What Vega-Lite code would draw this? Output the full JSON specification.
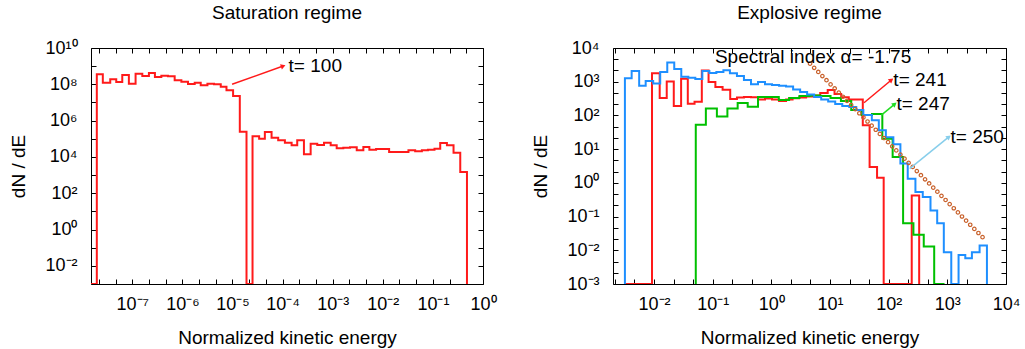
{
  "$schema": "https://vega.github.io/schema/vega-lite/v6.json",
  "padding": {"left": 9, "top": 4, "right": 5, "bottom": 5},
  "bounds": "flush",
  "spacing": 130,
  "config": {
    "font": "Liberation Sans",
    "view": {"stroke": null},
    "title": {"fontSize": 19, "fontWeight": "normal", "color": "#000", "offset": 16},
    "axis": {"tickSize": -5, "tickColor": "#000", "domainColor": "#000", "labelColor": "#000", "titleColor": "#000", "labelFontSize": 18, "titleFontSize": 19, "titleFontWeight": "normal", "grid": false, "labelFlush": false, "labelOverlap": false, "tickWidth": 1, "domainWidth": 1},
    "axisX": {"labelPadding": 16, "titlePadding": 15},
    "axisY": {"labelPadding": 19},
    "text": {"fontSize": 19, "color": "#000"}
  },
  "datasets": {
    "sat": [
      {"energy": 1.5e-8, "dNdE": 0.001},
      {"energy": 1.959e-8, "dNdE": 3.548e8},
      {"energy": 2.582e-8, "dNdE": 1.225e8},
      {"energy": 3.631e-8, "dNdE": 1.884e8},
      {"energy": 4.786e-8, "dNdE": 1.340e8},
      {"energy": 6.310e-8, "dNdE": 3.236e8},
      {"energy": 8.551e-8, "dNdE": 1.079e8},
      {"energy": 1.164e-7, "dNdE": 3.828e8},
      {"energy": 1.585e-7, "dNdE": 2.864e8},
      {"energy": 2.148e-7, "dNdE": 4.188e8},
      {"energy": 2.831e-7, "dNdE": 2.512e8},
      {"energy": 3.802e-7, "dNdE": 2.972e8},
      {"energy": 5.152e-7, "dNdE": 2.754e8},
      {"energy": 7.015e-7, "dNdE": 1.660e8},
      {"energy": 9.550e-7, "dNdE": 1.390e8},
      {"energy": 1.294e-6, "dNdE": 1.040e8},
      {"energy": 1.762e-6, "dNdE": 1.225e8},
      {"energy": 2.323e-6, "dNdE": 8.810e7},
      {"energy": 3.162e-6, "dNdE": 1.079e8},
      {"energy": 4.285e-6, "dNdE": 1.0e8},
      {"energy": 5.834e-6, "dNdE": 7.379e7},
      {"energy": 7.586e-6, "dNdE": 4.677e7},
      {"energy": 1.028e-5, "dNdE": 2.270e7},
      {"energy": 1.400e-5, "dNdE": 2.455e5},
      {"energy": 1.905e-5, "dNdE": 0.001},
      {"energy": 2.512e-5, "dNdE": 1.374e5},
      {"energy": 3.404e-5, "dNdE": 1.014e5},
      {"energy": 4.426e-5, "dNdE": 2.371e5},
      {"energy": 6.026e-5, "dNdE": 1.148e5},
      {"energy": 8.166e-5, "dNdE": 8.279e4},
      {"energy": 1.112e-4, "dNdE": 6.109e4},
      {"energy": 1.514e-4, "dNdE": 4.395e4},
      {"energy": 1.959e-4, "dNdE": 8.279e4},
      {"energy": 2.667e-4, "dNdE": 1.403e4},
      {"energy": 3.631e-4, "dNdE": 5.383e4},
      {"energy": 4.920e-4, "dNdE": 4.571e4},
      {"energy": 6.699e-4, "dNdE": 6.109e4},
      {"energy": 9.120e-4, "dNdE": 4.395e4},
      {"energy": 1.202e-3, "dNdE": 3.006e4},
      {"energy": 1.629e-3, "dNdE": 3.162e4},
      {"energy": 2.218e-3, "dNdE": 3.412e4},
      {"energy": 3.020e-3, "dNdE": 2.333e4},
      {"energy": 4.093e-3, "dNdE": 3.548e4},
      {"energy": 5.395e-3, "dNdE": 2.512e4},
      {"energy": 7.345e-3, "dNdE": 2.754e4},
      {"energy": 1.000e-2, "dNdE": 2.754e4},
      {"energy": 1.337e-2, "dNdE": 1.879e4},
      {"energy": 1.820e-2, "dNdE": 1.879e4},
      {"energy": 2.466e-2, "dNdE": 1.879e4},
      {"energy": 3.251e-2, "dNdE": 2.333e4},
      {"energy": 4.426e-2, "dNdE": 2.056e4},
      {"energy": 6.026e-2, "dNdE": 2.333e4},
      {"energy": 7.943e-2, "dNdE": 2.512e4},
      {"energy": 0.1076, "dNdE": 2.858e4},
      {"energy": 0.1400, "dNdE": 5.888e4},
      {"energy": 0.1905, "dNdE": 4.395e4},
      {"energy": 0.2582, "dNdE": 1.722e4},
      {"energy": 0.3516, "dNdE": 1.479e3},
      {"energy": 0.4786, "dNdE": 0.001}
    ],
    "expl": [
      {"time": 241, "energy": 3.192e-3, "dNdE": 0.001},
      {"time": 241, "energy": 9.247e-3, "dNdE": 1778},
      {"time": 241, "energy": 1.250e-2, "dNdE": 327.3},
      {"time": 241, "energy": 1.648e-2, "dNdE": 1014},
      {"time": 241, "energy": 2.173e-2, "dNdE": 189.2},
      {"time": 241, "energy": 2.897e-2, "dNdE": 1219},
      {"time": 241, "energy": 3.767e-2, "dNdE": 221.3},
      {"time": 241, "energy": 4.909e-2, "dNdE": 254.1},
      {"time": 241, "energy": 6.531e-2, "dNdE": 2153},
      {"time": 241, "energy": 8.511e-2, "dNdE": 979.5},
      {"time": 241, "energy": 0.1112, "dNdE": 695.0},
      {"time": 241, "energy": 0.1476, "dNdE": 578.1},
      {"time": 241, "energy": 0.1991, "dNdE": 309.7},
      {"time": 241, "energy": 0.2594, "dNdE": 338.8},
      {"time": 241, "energy": 0.3412, "dNdE": 350.6},
      {"time": 241, "energy": 0.4498, "dNdE": 343.6},
      {"time": 241, "energy": 0.5929, "dNdE": 295.1},
      {"time": 241, "energy": 0.7798, "dNdE": 316.2},
      {"time": 241, "energy": 1.028, "dNdE": 295.1},
      {"time": 241, "energy": 1.355, "dNdE": 266.7},
      {"time": 241, "energy": 1.782, "dNdE": 299.2},
      {"time": 241, "energy": 2.301, "dNdE": 320.6},
      {"time": 241, "energy": 2.972, "dNdE": 338.8},
      {"time": 241, "energy": 3.917, "dNdE": 363.1},
      {"time": 241, "energy": 5.164, "dNdE": 388.2},
      {"time": 241, "energy": 6.808, "dNdE": 461.3},
      {"time": 241, "energy": 9.141, "dNdE": 566.2},
      {"time": 241, "energy": 11.94, "dNdE": 430.5},
      {"time": 241, "energy": 15.52, "dNdE": 343.6},
      {"time": 241, "energy": 20.89, "dNdE": 299.2},
      {"time": 241, "energy": 36.22, "dNdE": 51.40},
      {"time": 241, "energy": 47.32, "dNdE": 2.951},
      {"time": 241, "energy": 63.39, "dNdE": 1.409},
      {"time": 241, "energy": 82.22, "dNdE": 0.001},
      {"time": 241, "energy": 247.2, "dNdE": 0.4246},
      {"time": 241, "energy": 331.1, "dNdE": 0.001},
      {"time": 247, "energy": 5.152e-2, "dNdE": 0.001},
      {"time": 247, "energy": 5.152e-2, "dNdE": 53.21},
      {"time": 247, "energy": 7.655e-2, "dNdE": 159.2},
      {"time": 247, "energy": 0.1180, "dNdE": 93.33},
      {"time": 247, "energy": 0.1782, "dNdE": 161.4},
      {"time": 247, "energy": 0.2667, "dNdE": 232.3},
      {"time": 247, "energy": 0.3954, "dNdE": 180.3},
      {"time": 247, "energy": 0.5929, "dNdE": 350.6},
      {"time": 247, "energy": 0.8892, "dNdE": 350.6},
      {"time": 247, "energy": 1.340, "dNdE": 285.1},
      {"time": 247, "energy": 2.009, "dNdE": 327.3},
      {"time": 247, "energy": 3.013, "dNdE": 375.0},
      {"time": 247, "energy": 4.529, "dNdE": 388.2},
      {"time": 247, "energy": 6.808, "dNdE": 375.0},
      {"time": 247, "energy": 10.21, "dNdE": 327.3},
      {"time": 247, "energy": 15.35, "dNdE": 266.7},
      {"time": 247, "energy": 23.01, "dNdE": 143.9},
      {"time": 247, "energy": 34.51, "dNdE": 102.1},
      {"time": 247, "energy": 52.00, "dNdE": 109.4},
      {"time": 247, "energy": 77.98, "dNdE": 20.42},
      {"time": 247, "energy": 116.9, "dNdE": 5.861},
      {"time": 247, "energy": 176.2, "dNdE": 0.06368},
      {"time": 247, "energy": 264.2, "dNdE": 0.02871},
      {"time": 247, "energy": 396.3, "dNdE": 0.01288},
      {"time": 247, "energy": 597.0, "dNdE": 0.001},
      {"time": 247, "energy": 895.4, "dNdE": 0.001},
      {"time": 250, "energy": 3.192e-3, "dNdE": 0.001},
      {"time": 250, "energy": 3.192e-3, "dNdE": 1262},
      {"time": 250, "energy": 4.159e-3, "dNdE": 2080},
      {"time": 250, "energy": 5.585e-3, "dNdE": 760.3},
      {"time": 250, "energy": 7.211e-3, "dNdE": 1050},
      {"time": 250, "energy": 9.683e-3, "dNdE": 883.1},
      {"time": 250, "energy": 1.276e-2, "dNdE": 1945},
      {"time": 250, "energy": 1.683e-2, "dNdE": 3724},
      {"time": 250, "energy": 2.213e-2, "dNdE": 2388},
      {"time": 250, "energy": 2.917e-2, "dNdE": 1409},
      {"time": 250, "energy": 3.846e-2, "dNdE": 1315},
      {"time": 250, "energy": 5.058e-2, "dNdE": 1202},
      {"time": 250, "energy": 6.668e-2, "dNdE": 2080},
      {"time": 250, "energy": 8.790e-2, "dNdE": 1815},
      {"time": 250, "energy": 0.1156, "dNdE": 1945},
      {"time": 250, "energy": 0.1524, "dNdE": 2183},
      {"time": 250, "energy": 0.1968, "dNdE": 1778},
      {"time": 250, "energy": 0.2594, "dNdE": 1479},
      {"time": 250, "energy": 0.3412, "dNdE": 1125},
      {"time": 250, "energy": 0.4498, "dNdE": 837.5},
      {"time": 250, "energy": 0.5929, "dNdE": 979.5},
      {"time": 250, "energy": 0.7798, "dNdE": 837.5},
      {"time": 250, "energy": 1.028, "dNdE": 797.7},
      {"time": 250, "energy": 1.355, "dNdE": 760.3},
      {"time": 250, "energy": 1.782, "dNdE": 719.5},
      {"time": 250, "energy": 2.350, "dNdE": 586.1},
      {"time": 250, "energy": 3.097, "dNdE": 493.3},
      {"time": 250, "energy": 4.074, "dNdE": 415.9},
      {"time": 250, "energy": 5.370, "dNdE": 350.6},
      {"time": 250, "energy": 7.079, "dNdE": 295.1},
      {"time": 250, "energy": 9.311, "dNdE": 257.6},
      {"time": 250, "energy": 12.27, "dNdE": 216.8},
      {"time": 250, "energy": 16.18, "dNdE": 189.2},
      {"time": 250, "energy": 21.28, "dNdE": 176.6},
      {"time": 250, "energy": 28.05, "dNdE": 143.9},
      {"time": 250, "energy": 36.98, "dNdE": 102.1},
      {"time": 250, "energy": 51.64, "dNdE": 72.44},
      {"time": 250, "energy": 67.92, "dNdE": 36.52},
      {"time": 250, "energy": 89.54, "dNdE": 22.59},
      {"time": 250, "energy": 120.2, "dNdE": 14.0},
      {"time": 250, "energy": 158.5, "dNdE": 3.724},
      {"time": 250, "energy": 211.3, "dNdE": 1.334},
      {"time": 250, "energy": 285.8, "dNdE": 0.5321},
      {"time": 250, "energy": 381.1, "dNdE": 0.3776},
      {"time": 250, "energy": 516.4, "dNdE": 0.1520},
      {"time": 250, "energy": 671.4, "dNdE": 0.06368},
      {"time": 250, "energy": 871.0, "dNdE": 0.008710},
      {"time": 250, "energy": 1167, "dNdE": 0.001},
      {"time": 250, "energy": 1554, "dNdE": 0.007295},
      {"time": 250, "energy": 2023, "dNdE": 0.005781},
      {"time": 250, "energy": 2624, "dNdE": 0.008710},
      {"time": 250, "energy": 3548, "dNdE": 0.01380},
      {"time": 250, "energy": 4732, "dNdE": 0.001}
    ],
    "fit": [
      {"energy": 4.571, "dNdE": 3428},
      {"energy": 5.370, "dNdE": 2585},
      {"energy": 6.310, "dNdE": 1950},
      {"energy": 7.413, "dNdE": 1471},
      {"energy": 8.710, "dNdE": 1109},
      {"energy": 10.23, "dNdE": 836.6},
      {"energy": 12.02, "dNdE": 631.0},
      {"energy": 14.13, "dNdE": 475.9},
      {"energy": 16.60, "dNdE": 358.9},
      {"energy": 19.50, "dNdE": 270.7},
      {"energy": 22.91, "dNdE": 204.2},
      {"energy": 26.92, "dNdE": 154.0},
      {"energy": 31.62, "dNdE": 116.1},
      {"energy": 37.15, "dNdE": 87.60},
      {"energy": 43.65, "dNdE": 66.07},
      {"energy": 51.29, "dNdE": 49.83},
      {"energy": 60.26, "dNdE": 37.58},
      {"energy": 70.79, "dNdE": 28.35},
      {"energy": 83.18, "dNdE": 21.38},
      {"energy": 97.72, "dNdE": 16.12},
      {"energy": 114.8, "dNdE": 12.16},
      {"energy": 134.9, "dNdE": 9.173},
      {"energy": 158.5, "dNdE": 6.918},
      {"energy": 186.2, "dNdE": 5.218},
      {"energy": 218.8, "dNdE": 3.936},
      {"energy": 257.0, "dNdE": 2.968},
      {"energy": 302.0, "dNdE": 2.239},
      {"energy": 354.8, "dNdE": 1.689},
      {"energy": 416.9, "dNdE": 1.274},
      {"energy": 489.8, "dNdE": 0.9605},
      {"energy": 575.4, "dNdE": 0.7244},
      {"energy": 676.1, "dNdE": 0.5464},
      {"energy": 794.3, "dNdE": 0.4121},
      {"energy": 933.3, "dNdE": 0.3108},
      {"energy": 1096, "dNdE": 0.2344},
      {"energy": 1288, "dNdE": 0.1768},
      {"energy": 1514, "dNdE": 0.1334},
      {"energy": 1778, "dNdE": 0.1006},
      {"energy": 2089, "dNdE": 0.07586},
      {"energy": 2455, "dNdE": 0.05721},
      {"energy": 2884, "dNdE": 0.04315},
      {"energy": 3388, "dNdE": 0.03255},
      {"energy": 3981, "dNdE": 0.02455}
    ],
    "satNotes": [
      {"label": "t= 100", "energy": 1.202e-4, "dNdE": 1.016e9}
    ],
    "satArrows": [
      {"energy": 9.817e-6, "dNdE": 1e8, "energyEnd": 1.028e-4, "dNdEEnd": 1.016e9}
    ],
    "explNotes": [
      {"label": "Spectral index α= -1.75", "energy": 0.1091, "dNdE": 5546},
      {"label": "t= 241", "energy": 120.2, "dNdE": 1125},
      {"label": "t= 247", "energy": 135.5, "dNdE": 216.8},
      {"label": "t= 250", "energy": 1135, "dNdE": 23.07}
    ],
    "explArrows": [
      {"arrow": 241, "energy": 38.02, "dNdE": 237.1, "energyEnd": 111.2, "dNdEEnd": 1125},
      {"arrow": 247, "energy": 74.99, "dNdE": 102.1, "energyEnd": 126.8, "dNdEEnd": 216.8},
      {"arrow": 250, "energy": 228.6, "dNdE": 2.649, "energyEnd": 1062, "dNdEEnd": 23.07}
    ]
  },
  "hconcat": [
    {
      "width": 392,
      "height": 236,
      "title": "Saturation regime",
      "resolve": {"axis": {"x": "independent", "y": "independent"}},
      "layer": [
        {
          "data": {"name": "sat"},
          "mark": {"type": "line", "interpolate": "step-after", "color": "#ff1a1a", "strokeWidth": 2, "clip": true},
          "encoding": {
            "x": {"field": "energy", "type": "quantitative", "scale": {"type": "log", "domain": [1.5e-8, 1]},
              "axis": {"orient": "bottom", "title": "Normalized kinetic energy",
                "values": [2.154e-8, 4.642e-8, 1e-7, 2.154e-7, 4.642e-7, 1e-6, 2.154e-6, 4.642e-6, 1e-5, 2.154e-5, 4.642e-5, 1e-4, 2.154e-4, 4.642e-4, 1e-3, 2.154e-3, 4.642e-3, 0.01, 0.02154, 0.04642, 0.1, 0.2154, 0.4642, 1],
                "labelExpr": "abs(log(datum.value)/LN10 - round(log(datum.value)/LN10)) > 0.01 ? '' : '10' + replace(replace(replace(replace(replace(replace(replace(replace(replace(replace(replace(toString(round(log(datum.value)/LN10)),'-','⁻'),'0','⁰'),'1','¹'),'2','²'),'3','³'),'4','⁴'),'5','⁵'),'6','⁶'),'7','⁷'),'8','⁸'),'9','⁹')"}},
            "y": {"field": "dNdE", "type": "quantitative", "scale": {"type": "log", "domain": [0.001, 1e10]},
              "axis": {"orient": "left", "title": "dN / dE", "titleX": -63,
                "values": [0.001, 0.01, 0.1, 1, 10, 100, 1000, 1e4, 1e5, 1e6, 1e7, 1e8, 1e9, 1e10],
                "labelExpr": "round(log(datum.value)/LN10) % 2 != 0 ? '' : '10' + replace(replace(replace(replace(replace(replace(replace(replace(replace(replace(replace(toString(round(log(datum.value)/LN10)),'-','⁻'),'0','⁰'),'1','¹'),'2','²'),'3','³'),'4','⁴'),'5','⁵'),'6','⁶'),'7','⁷'),'8','⁸'),'9','⁹')"}},
            "order": {"value": null}
          }
        },
        {
          "data": {"name": "satArrows"},
          "mark": {"type": "rule", "color": "#ff1a1a", "strokeWidth": 1.5},
          "encoding": {
            "x": {"field": "energy", "type": "quantitative", "scale": {"type": "log", "domain": [1.5e-8, 1]}, "axis": null},
            "y": {"field": "dNdE", "type": "quantitative", "scale": {"type": "log", "domain": [0.001, 1e10]}, "axis": null},
            "x2": {"field": "energyEnd"},
            "y2": {"field": "dNdEEnd"}
          }
        },
        {
          "data": {"name": "satArrows"},
          "mark": {"type": "point", "shape": "triangle-right", "filled": true, "opacity": 1, "size": 30, "angle": -20, "color": "#ff1a1a"},
          "encoding": {
            "x": {"field": "energyEnd", "type": "quantitative", "scale": {"type": "log", "domain": [1.5e-8, 1]}, "axis": null},
            "y": {"field": "dNdEEnd", "type": "quantitative", "scale": {"type": "log", "domain": [0.001, 1e10]}, "axis": null}
          }
        },
        {
          "data": {"name": "satNotes"},
          "mark": {"type": "text", "align": "left", "baseline": "middle", "dx": 2},
          "encoding": {
            "x": {"field": "energy", "type": "quantitative", "scale": {"type": "log", "domain": [1.5e-8, 1]},
              "axis": {"orient": "top", "labels": false, "title": null,
                "values": [2.154e-8, 4.642e-8, 1e-7, 2.154e-7, 4.642e-7, 1e-6, 2.154e-6, 4.642e-6, 1e-5, 2.154e-5, 4.642e-5, 1e-4, 2.154e-4, 4.642e-4, 1e-3, 2.154e-3, 4.642e-3, 0.01, 0.02154, 0.04642, 0.1, 0.2154, 0.4642, 1]}},
            "y": {"field": "dNdE", "type": "quantitative", "scale": {"type": "log", "domain": [0.001, 1e10]},
              "axis": {"orient": "right", "labels": false, "title": null,
                "values": [0.001, 0.01, 0.1, 1, 10, 100, 1000, 1e4, 1e5, 1e6, 1e7, 1e8, 1e9, 1e10]}},
            "text": {"field": "label"}
          }
        }
      ]
    },
    {
      "width": 393,
      "height": 236,
      "title": "Explosive regime",
      "resolve": {"scale": {"color": "independent"}, "axis": {"x": "independent", "y": "independent"}},
      "layer": [
        {
          "data": {"name": "expl"},
          "mark": {"type": "line", "interpolate": "step-after", "strokeWidth": 2, "clip": true},
          "encoding": {
            "x": {"field": "energy", "type": "quantitative", "scale": {"type": "log", "domain": [0.002, 10000]},
              "axis": {"orient": "bottom", "title": "Normalized kinetic energy",
                "values": [0.002154, 0.004642, 0.01, 0.02154, 0.04642, 0.1, 0.2154, 0.4642, 1, 2.154, 4.642, 10, 21.54, 46.42, 100, 215.4, 464.2, 1000, 2154, 4642, 10000],
                "labelExpr": "abs(log(datum.value)/LN10 - round(log(datum.value)/LN10)) > 0.01 ? '' : '10' + replace(replace(replace(replace(replace(replace(replace(replace(replace(replace(replace(toString(round(log(datum.value)/LN10)),'-','⁻'),'0','⁰'),'1','¹'),'2','²'),'3','³'),'4','⁴'),'5','⁵'),'6','⁶'),'7','⁷'),'8','⁸'),'9','⁹')"}},
            "y": {"field": "dNdE", "type": "quantitative", "scale": {"type": "log", "domain": [0.001, 10000]},
              "axis": {"orient": "left", "title": "dN / dE", "titleX": -63,
                "values": [0.001, 0.002154, 0.004642, 0.01, 0.02154, 0.04642, 0.1, 0.2154, 0.4642, 1, 2.154, 4.642, 10, 21.54, 46.42, 100, 215.4, 464.2, 1000, 2154, 4642, 10000],
                "labelExpr": "abs(log(datum.value)/LN10 - round(log(datum.value)/LN10)) > 0.01 ? '' : '10' + replace(replace(replace(replace(replace(replace(replace(replace(replace(replace(replace(toString(round(log(datum.value)/LN10)),'-','⁻'),'0','⁰'),'1','¹'),'2','²'),'3','³'),'4','⁴'),'5','⁵'),'6','⁶'),'7','⁷'),'8','⁸'),'9','⁹')"}},
            "color": {"field": "time", "type": "nominal", "scale": {"domain": [241, 247, 250], "range": ["#ff1a1a", "#00c000", "#1e8fff"]}, "legend": null},
            "order": {"value": null}
          }
        },
        {
          "data": {"name": "fit"},
          "mark": {"type": "point", "shape": "circle", "filled": false, "size": 12, "strokeWidth": 1.2, "color": "#c8602a", "opacity": 1, "clip": true},
          "encoding": {
            "x": {"field": "energy", "type": "quantitative", "scale": {"type": "log", "domain": [0.002, 10000]}, "axis": null},
            "y": {"field": "dNdE", "type": "quantitative", "scale": {"type": "log", "domain": [0.001, 10000]}, "axis": null}
          }
        },
        {
          "data": {"name": "explArrows"},
          "mark": {"type": "rule", "strokeWidth": 1.5},
          "encoding": {
            "x": {"field": "energy", "type": "quantitative", "scale": {"type": "log", "domain": [0.002, 10000]}, "axis": null},
            "y": {"field": "dNdE", "type": "quantitative", "scale": {"type": "log", "domain": [0.001, 10000]}, "axis": null},
            "x2": {"field": "energyEnd"},
            "y2": {"field": "dNdEEnd"},
            "color": {"field": "arrow", "type": "nominal", "scale": {"domain": [241, 247, 250], "range": ["#ff1a1a", "#22dd22", "#87ceeb"]}, "legend": null}
          }
        },
        {
          "data": {"name": "explArrows"},
          "mark": {"type": "point", "shape": "triangle-right", "filled": true, "opacity": 1, "size": 30, "angle": -39},
          "encoding": {
            "x": {"field": "energyEnd", "type": "quantitative", "scale": {"type": "log", "domain": [0.002, 10000]}, "axis": null},
            "y": {"field": "dNdEEnd", "type": "quantitative", "scale": {"type": "log", "domain": [0.001, 10000]}, "axis": null},
            "color": {"field": "arrow", "type": "nominal", "scale": {"domain": [241, 247, 250], "range": ["#ff1a1a", "#22dd22", "#87ceeb"]}, "legend": null}
          }
        },
        {
          "data": {"name": "explNotes"},
          "mark": {"type": "text", "align": "left", "baseline": "middle"},
          "encoding": {
            "x": {"field": "energy", "type": "quantitative", "scale": {"type": "log", "domain": [0.002, 10000]},
              "axis": {"orient": "top", "labels": false, "title": null,
                "values": [0.002154, 0.004642, 0.01, 0.02154, 0.04642, 0.1, 0.2154, 0.4642, 1, 2.154, 4.642, 10, 21.54, 46.42, 100, 215.4, 464.2, 1000, 2154, 4642, 10000]}},
            "y": {"field": "dNdE", "type": "quantitative", "scale": {"type": "log", "domain": [0.001, 10000]},
              "axis": {"orient": "right", "labels": false, "title": null,
                "values": [0.001, 0.002154, 0.004642, 0.01, 0.02154, 0.04642, 0.1, 0.2154, 0.4642, 1, 2.154, 4.642, 10, 21.54, 46.42, 100, 215.4, 464.2, 1000, 2154, 4642, 10000]}},
            "text": {"field": "label"}
          }
        }
      ]
    }
  ]
}
